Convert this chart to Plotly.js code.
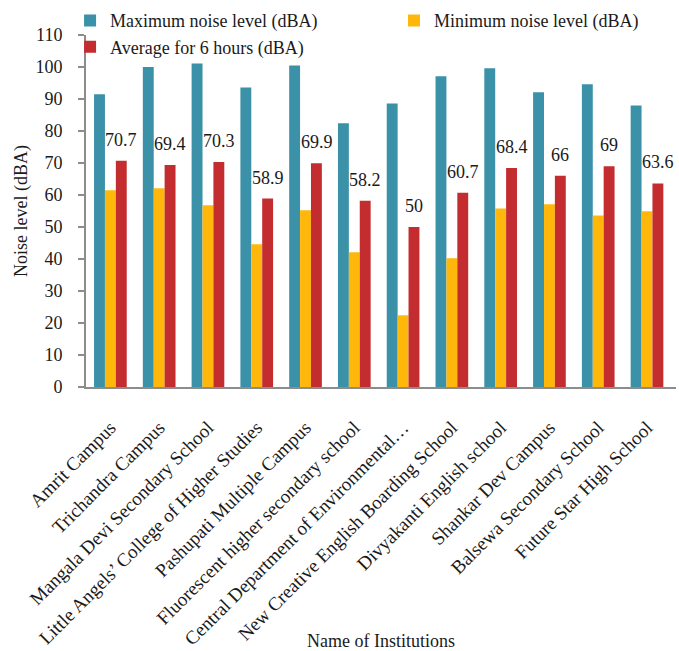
<!DOCTYPE html>
<html>
<head>
<meta charset="utf-8">
<script src="https://cdn.plot.ly/plotly-3.0.1.min.js"></script>
<style>
  html, body { margin: 0; padding: 0; background: #ffffff; }
  #chart { width: 679px; height: 651px; }
</style>
</head>
<body>
<div id="chart"></div>
<script>
// Noise levels measured at educational institutions (dBA)
const institutions = [
  "Amrit Campus",
  "Trichandra Campus",
  "Mangala Devi Secondary School",
  "Little Angels’ College of Higher Studies",
  "Pashupati Multiple Campus",
  "Fluorescent higher secondary school",
  "Central Department of Environmental…",
  "New Creative English Boarding School",
  "Divyakanti English school",
  "Shankar Dev Campus",
  "Balsewa Secondary School",
  "Future Star High School"
];
const maxNoise = [91.5, 100.0, 101.1, 93.6, 100.5, 82.4, 88.6, 97.1, 99.6, 92.1, 94.6, 88.0];
const minNoise = [61.5, 62.1, 56.8, 44.6, 55.2, 42.1, 22.4, 40.2, 55.8, 57.1, 53.6, 54.9];
const avgNoise = [70.7, 69.4, 70.3, 58.9, 69.9, 58.2, 50, 60.7, 68.4, 66, 69, 63.6];
const yTicks = [0, 10, 20, 30, 40, 50, 60, 70, 80, 90, 100, 110];

const FONT = "'Liberation Serif', 'Times New Roman', serif";
const INK = "#1a1a1a";
const AXIS = "#8c8c8c";

const traces = [
  { type: "bar", name: "Maximum noise level (dBA)", x: institutions, y: maxNoise,
    marker: { color: "#3A91A8" }, legend: "legend" },
  { type: "bar", name: "Minimum noise level (dBA)", x: institutions, y: minNoise,
    marker: { color: "#FFB70C" }, legend: "legend2" },
  { type: "bar", name: "Average for 6 hours (dBA)", x: institutions, y: avgNoise,
    marker: { color: "#C42D30" }, legend: "legend" }
];

// value labels above the average bars (third bar of each group)
const annotations = institutions.map((name, i) => ({
  x: name, y: avgNoise[i], xref: "x", yref: "y",
  text: String(avgNoise[i]), showarrow: false,
  xanchor: "center", yanchor: "bottom", xshift: 11, yshift: 9,
  font: { family: FONT, size: 18, color: INK }
}));

const legendBase = {
  xanchor: "left", yanchor: "top", itemwidth: 30,
  traceorder: "normal", tracegroupgap: 0,
  font: { family: FONT, size: 18, color: INK },
  bgcolor: "rgba(0,0,0,0)", borderwidth: 0
};

const layout = {
  width: 679, height: 651,
  margin: { l: 86, r: 3, t: 34, b: 264 },
  paper_bgcolor: "#ffffff", plot_bgcolor: "#ffffff",
  font: { family: FONT, size: 18, color: INK },
  barmode: "group",
  bargap: 0.33, bargroupgap: 0,
  showlegend: true,
  legend: Object.assign({}, legendBase, { orientation: "v", x: -0.027, y: 1.09 }),
  legend2: Object.assign({}, legendBase, { orientation: "v", x: 0.522, y: 1.09 }),
  xaxis: {
    type: "category", tickangle: -45, showgrid: false, zeroline: false,
    showline: true, linecolor: AXIS, linewidth: 2, ticks: "",
    ticklabelstandoff: 20,
    tickfont: { family: FONT, size: 19, color: INK },
    title: { text: "Name of Institutions", standoff: 22,
             font: { family: FONT, size: 18, color: INK } },
    automargin: false
  },
  yaxis: {
    range: [0, 110], tickvals: yTicks, ticktext: yTicks.map(String),
    showgrid: false, zeroline: false, showline: true, linecolor: AXIS,
    linewidth: 2, ticks: "outside", ticklen: 6, tickcolor: AXIS, tickwidth: 2,
    ticklabelstandoff: 12,
    tickfont: { family: FONT, size: 18, color: INK },
    title: { text: "Noise level (dBA)", standoff: 3,
             font: { family: FONT, size: 18, color: INK } },
    automargin: false
  },
  annotations: annotations
};

Plotly.newPlot("chart", traces, layout, { displayModeBar: false, staticPlot: true });
</script>
</body>
</html>
